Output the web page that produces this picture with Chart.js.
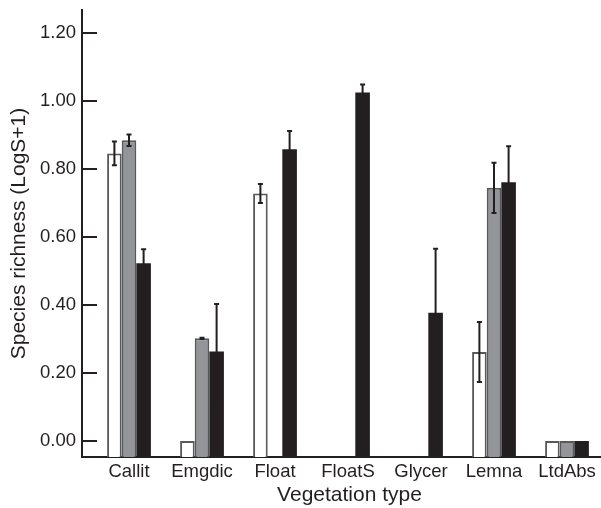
<!DOCTYPE html>
<html>
<head>
<meta charset="utf-8">
<script src="https://cdn.jsdelivr.net/npm/chart.js@4/dist/chart.umd.min.js"></script>
<style>
  html, body { margin: 0; padding: 0; background: #ffffff; overflow: hidden; }
  #wrap { width: 601px; height: 508px; position: relative; overflow: hidden; }
  #c { display: block; }
</style>
</head>
<body>
<div id="wrap"><canvas id="c" width="617" height="508"></canvas></div>
<script>
// ---- data ----
const categories = ['Callit', 'Emgdic', 'Float', 'FloatS', 'Glycer', 'Lemna', 'LtdAbs'];
const whiteValues = [0.846, 0.000, 0.728, null, null, 0.262, 0.000];
const whiteErrors = [0.035, 0.000, 0.028, null, null, 0.088, 0.000];
const grayValues  = [0.885, 0.302, null, null, null, 0.745, 0.000];
const grayErrors  = [0.017, 0.002, null, null, null, 0.074, 0.000];
const blackValues = [0.523, 0.263, 0.858, 1.025, 0.377, 0.761, 0.000];
const blackErrors = [0.041, 0.140, 0.054, 0.024, 0.189, 0.106, 0.000];
const yTickValues = [0.00, 0.20, 0.40, 0.60, 0.80, 1.00, 1.20];

const Y_MIN = -0.047, Y_MAX = 1.268;
const X_MIN = -0.644, X_MAX = 6.685;
const INK = '#231f20';
const FONT = "'Liberation Sans', Arial, Helvetica, sans-serif";

function toPoints(vals) {
  return vals.map((v, i) => ({ x: i, y: v }));
}

const errorBarPlugin = {
  id: 'errorBars',
  afterDatasetsDraw(chart) {
    const ctx = chart.ctx;
    const yScale = chart.scales.y;
    ctx.save();
    ctx.strokeStyle = INK;
    ctx.lineWidth = 2;
    chart.data.datasets.forEach((ds, di) => {
      const meta = chart.getDatasetMeta(di);
      meta.data.forEach((el, i) => {
        const v = ds.data[i].y;
        const e = ds.errors[i];
        if (v === null || e === null || e === undefined) return;
        if (e === 0) return;
        const x = el.x;
        const yt = yScale.getPixelForValue(v + e);
        const yb = yScale.getPixelForValue(v - e);
        ctx.beginPath();
        ctx.moveTo(x, yt); ctx.lineTo(x, yb);
        ctx.moveTo(x - 2.5, yt); ctx.lineTo(x + 2.5, yt);
        ctx.moveTo(x - 2.5, yb); ctx.lineTo(x + 2.5, yb);
        ctx.stroke();
      });
    });
    ctx.restore();
  }
};

new Chart(document.getElementById('c'), {
  type: 'bar',
  data: {
    datasets: [
      { label: 'white', data: toPoints(whiteValues), errors: whiteErrors,
        backgroundColor: '#ffffff', borderColor: '#58595b', borderWidth: 2, base: Y_MIN },
      { label: 'gray', data: toPoints(grayValues), errors: grayErrors,
        backgroundColor: '#939598', borderColor: '#58595b', borderWidth: 2, base: Y_MIN },
      { label: 'black', data: toPoints(blackValues), errors: blackErrors,
        backgroundColor: INK, borderColor: INK, borderWidth: 0, base: Y_MIN }
    ]
  },
  options: {
    responsive: false,
    animation: false,
    devicePixelRatio: 1,
    categoryPercentage: 0.6,
    barPercentage: 1.0,
    layout: { padding: { top: 10, right: 0, bottom: 0, left: 0 } },
    plugins: { legend: { display: false }, tooltip: { enabled: false } },
    scales: {
      x: {
        type: 'linear',
        position: 'bottom',
        min: X_MIN, max: X_MAX,
        offset: false,
        z: 1,
        afterBuildTicks(scale) { scale.ticks = categories.map((c, i) => ({ value: i })); },
        afterFit(scale) { scale.height = 51; scale.paddingLeft = 0; scale.paddingRight = 0; },
        grid: { display: true, drawOnChartArea: false, drawTicks: false, offset: false, color: 'rgba(0,0,0,0)' },
        border: { display: true, color: INK, width: 2 },
        ticks: {
          autoSkip: false, maxRotation: 0, minRotation: 0, padding: 4,
          color: INK, font: { family: FONT, size: 18.5 },
          callback: (v) => categories[v]
        },
        title: {
          display: true, text: 'Vegetation type', color: INK,
          font: { family: FONT, size: 21, lineHeight: 1.2 },
          padding: { top: 0, bottom: 0 }
        }
      },
      y: {
        type: 'linear',
        position: 'left',
        min: Y_MIN, max: Y_MAX,
        afterBuildTicks(scale) { scale.ticks = yTickValues.map(v => ({ value: v })); },
        afterFit(scale) { scale.width = 82; scale.paddingTop = 0; scale.paddingBottom = 0; },
        grid: { display: true, drawOnChartArea: false, drawTicks: true, tickLength: -15, color: INK, lineWidth: 2 },
        border: { display: true, color: INK, width: 2 },
        ticks: {
          padding: 21, color: INK, font: { family: FONT, size: 18.5 },
          callback: (v) => Number(v).toFixed(2)
        },
        title: {
          display: true, text: 'Species richness (LogS+1)', color: INK,
          font: { family: FONT, size: 21, lineHeight: 1.2 },
          padding: { top: 7, bottom: 0 }
        }
      }
    }
  },
  plugins: [errorBarPlugin]
});
</script>
</body>
</html>
